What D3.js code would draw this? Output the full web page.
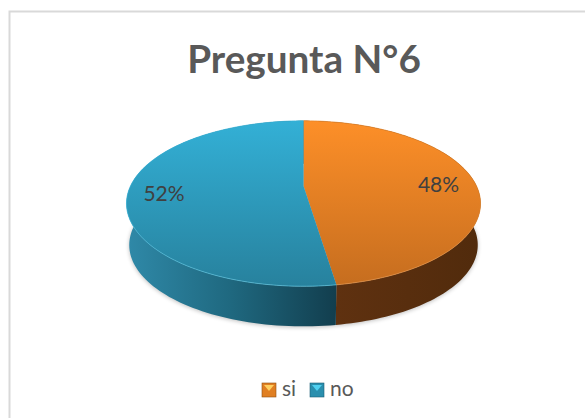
<!DOCTYPE html>
<html><head><meta charset="utf-8">
<script src="https://cdn.jsdelivr.net/npm/d3@7"></script>
<style>html,body{margin:0;padding:0;background:#fff}svg{display:block}text{font-family:Lato,"Open Sans",sans-serif}</style>
</head><body><svg id="c" width="585" height="418"></svg>
<script>
const categories = ["si","no"];
const values = [47.6,52.4];
const title = "Pregunta N°6";

const svg = d3.select("#c");
const defs = svg.append("defs");
const W=585,H=418;
svg.append("path").attr("d",`M9.5,${H}V11.5H${W}`).attr("fill","none").attr("stroke","#d9d9d9").attr("stroke-width",2);

svg.append("text").attr("x",304).attr("y",73).attr("text-anchor","middle")
  .attr("font-size",38.7).attr("font-weight",700).attr("fill","#595959").text(title);

const apex={x:303.5,y:186}, R=173, r=79, p=0.212, depth=42, baseScale=0.985;
const project=(a,dy=0,t=1)=>{const X=Math.sin(a)*t,Y=Math.cos(a)*t,w=1+p*Y;return [apex.x+R*X/w,apex.y-r*Y/w+dy];};
const pie=d3.pie().sort(null).value(d=>d)(values);

function grad(id,x1,y1,x2,y2,stops){
  const g=defs.append("linearGradient").attr("id",id).attr("gradientUnits","userSpaceOnUse")
    .attr("x1",x1).attr("y1",y1).attr("x2",x2).attr("y2",y2);
  stops.forEach(s=>g.append("stop").attr("offset",s[0]).attr("stop-color",s[1]));
}
grad("topSi",0,121,0,287,[[0,"#fd8f28"],[1,"#c56d1f"]]);
grad("topNo",0,121,0,287,[[0,"#33b0d6"],[1,"#27819d"]]);
grad("sideSi",336,0,481,0,[[0,"#5f3110"],[1,"#512b0c"]]);
grad("sideNo",127,0,336,0,[[0,"#2f89a8"],[.5,"#1f687f"],[1,"#123e4e"]]);
grad("rimNo",0,190,0,287,[[0,"#33b0d6"],[1,"#5cc4e0"]]);
grad("rimSi",0,190,0,287,[[0,"#e07f22"],[1,"#e8954a"]]);
const f=defs.append("filter").attr("id","blur").attr("x","-10%").attr("y","-10%").attr("width","120%").attr("height","120%");
f.append("feGaussianBlur").attr("stdDeviation",2.2);

const line=d3.line();
const arcPts=(s,e,dy=0,t=1)=>d3.range(0,121).map(i=>project(s+(e-s)*i/120,dy,t));
const sampled=d3.range(0,241).map(i=>project(i/240*2*Math.PI,depth+1,baseScale));
svg.append("path").attr("d",line(sampled)+"Z").attr("fill","#000").attr("opacity",.25).attr("filter","url(#blur)");

const sideFill=["url(#sideSi)","url(#sideNo)"], topFill=["url(#topSi)","url(#topNo)"], rim=["url(#rimSi)","url(#rimNo)"];
pie.forEach((d,i)=>{
  const a=arcPts(d.startAngle,d.endAngle), b=arcPts(d.startAngle,d.endAngle,depth,baseScale).reverse();
  svg.append("path").attr("d",line(a.concat(b))+"Z").attr("fill",sideFill[i]);
});
pie.forEach((d,i)=>{
  const a=arcPts(d.startAngle,d.endAngle);
  svg.append("path").attr("d",line([[apex.x,apex.y],...a])+"Z").attr("fill",topFill[i]);
  svg.append("path").attr("d",line(a)).attr("fill","none").attr("stroke",rim[i]).attr("stroke-width",1).attr("opacity",.7);
});

const fmt=d3.format(".0%");
const labelPos=[[438.5,192],[164,201]];
pie.forEach((d,i)=>{
  svg.append("text").attr("x",labelPos[i][0]).attr("y",labelPos[i][1]).attr("text-anchor","middle")
    .attr("font-size",21).attr("fill","#404040").text(fmt(d.value/100));
});

const legendX=d3.scaleOrdinal().domain(categories).range([262,310]);
const swatch=[["#e07f22","#ffd060","#8f4f12"],["#2a8fae","#50d0f0","#1b5f75"]];
categories.forEach((c,i)=>{
  const x=legendX(c),y=383;
  svg.append("rect").attr("x",x).attr("y",y).attr("width",14).attr("height",14).attr("fill",swatch[i][0]).attr("stroke",swatch[i][2]).attr("stroke-width",.6);
  svg.append("path").attr("d",`M${x+2},${y+2}H${x+12}L${x+7},${y+8}Z`).attr("fill",swatch[i][1]);
  svg.append("text").attr("x",x+20).attr("y",y+13).attr("font-size",21).attr("fill","#595959").text(c);
});
</script></body></html>
